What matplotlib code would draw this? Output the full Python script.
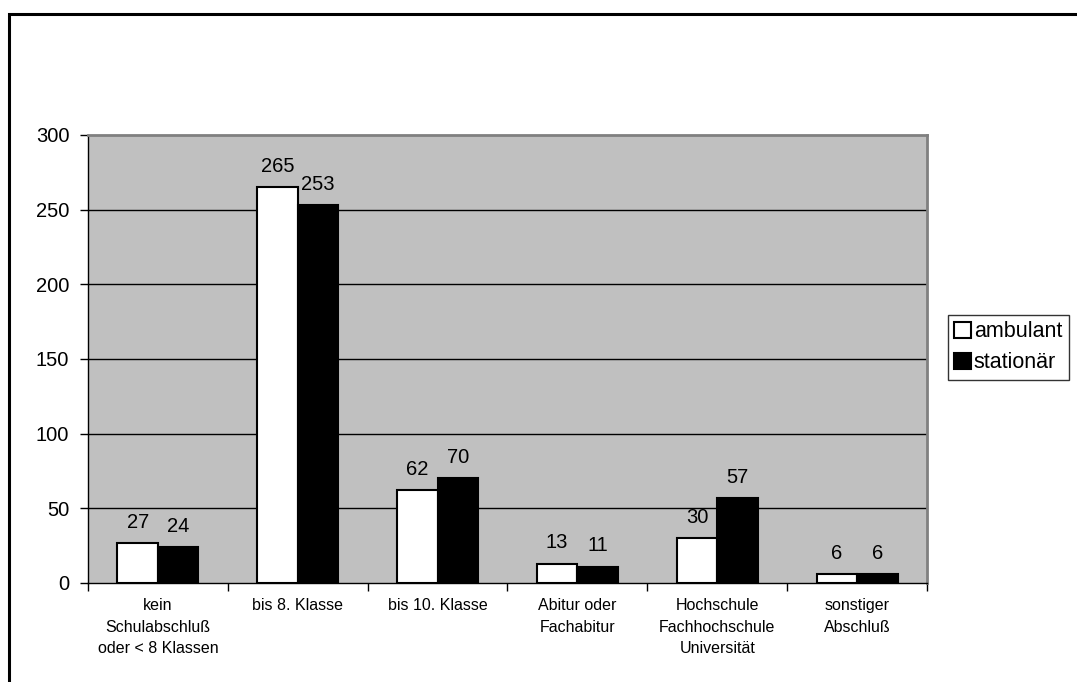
import numpy as np
import matplotlib.pyplot as plt
from matplotlib.patches import Rectangle

plt.rcParams['font.family'] = ['Liberation Sans', 'DejaVu Sans']

categories = ['kein\nSchulabschluß\noder < 8 Klassen', 'bis 8. Klasse', 'bis 10. Klasse',
              'Abitur oder\nFachabitur', 'Hochschule\nFachhochschule\nUniversität',
              'sonstiger\nAbschluß']
ambulant = [27, 265, 62, 13, 30, 6]
stationaer = [24, 253, 70, 11, 57, 6]
y_ticks = [0, 50, 100, 150, 200, 250, 300]

fig = plt.figure(figsize=(10.77, 6.82), dpi=100)
# outer chart frame (only top and left edges fall inside the image)
fig.patches.append(Rectangle((9 / 1077, -0.5), 1.5, 1 - 14 / 682 + 0.5,
                             transform=fig.transFigure, fill=False,
                             edgecolor='black', linewidth=2.2, zorder=0))

ax = fig.add_axes([88 / 1077, 99 / 682, 839 / 1077, 448 / 682])
ax.set_facecolor('#C0C0C0')

x = np.arange(len(categories))
w = 0.29
ax.bar(x - w / 2, ambulant, w, color='white', edgecolor='black', linewidth=1.5,
       label='ambulant', zorder=3)
ax.bar(x + w / 2, stationaer, w, color='black', edgecolor='black', linewidth=1.5,
       label='stationär', zorder=3)

for xi, a, s in zip(x, ambulant, stationaer):
    ax.annotate(str(a), (xi - w / 2, a), xytext=(0, 8), textcoords='offset points',
                ha='center', va='bottom', fontsize=14.5)
    ax.annotate(str(s), (xi + w / 2, s), xytext=(0, 8), textcoords='offset points',
                ha='center', va='bottom', fontsize=14.5)

ax.set_xlim(-0.5, len(categories) - 0.5)
ax.set_ylim(0, 300)
ax.set_yticks(y_ticks)
ax.set_yticklabels([str(t) for t in y_ticks], fontsize=14.5)
for t in y_ticks[1:-1]:
    ax.axhline(t, color='black', linewidth=1, zorder=1)

# category boundaries carry the x ticks, labels sit at centres
ax.set_xticks(np.arange(len(categories) + 1) - 0.5)
ax.set_xticklabels([])
ax.set_xticks(x, minor=True)
ax.set_xticklabels(categories, minor=True, fontsize=11.5, linespacing=1.55, va='top')
ax.tick_params(axis='x', which='minor', length=0, pad=11)
ax.tick_params(axis='x', which='major', direction='out', length=6, width=1)
ax.tick_params(axis='y', direction='out', length=6, width=1, pad=7.5)

for side in ('top', 'right'):
    ax.spines[side].set_color('#808080')
    ax.spines[side].set_linewidth(2)
for side in ('left', 'bottom'):
    ax.spines[side].set_color('black')
    ax.spines[side].set_linewidth(1)

leg = fig.legend(loc='upper left', bbox_to_anchor=(948 / 1077, 1 - 315 / 682),
                 fontsize=15.5, frameon=True, fancybox=False, handlelength=0.75,
                 handleheight=0.75, handletextpad=0.15, borderpad=0.3,
                 labelspacing=0.45, borderaxespad=0)
leg.get_frame().set_edgecolor('black')
leg.get_frame().set_linewidth(1)

fig.savefig('out.png', dpi=100)
